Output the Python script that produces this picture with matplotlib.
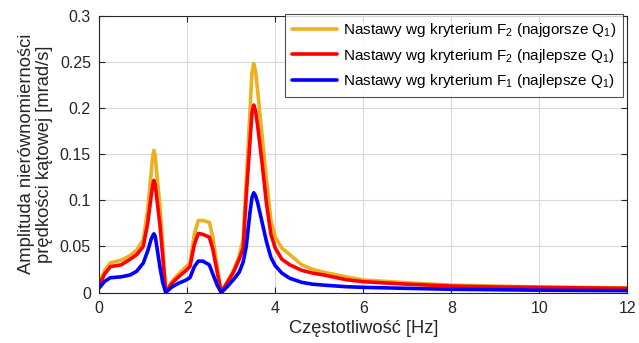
import matplotlib
matplotlib.use("Agg")
import matplotlib.pyplot as plt

plt.rcParams['font.family'] = ['Liberation Sans', 'DejaVu Sans']
plt.rcParams['mathtext.default'] = 'regular'

# Frequency axis [Hz]
freq = [0.00, 0.12, 0.25, 0.50, 0.70, 0.85, 1.00, 1.10, 1.18, 1.21,
        1.24, 1.27, 1.30, 1.38, 1.44, 1.51, 1.65, 1.80, 1.95, 2.06,
        2.16, 2.25, 2.35, 2.50, 2.58, 2.68, 2.77, 2.90, 3.05, 3.18,
        3.27, 3.34, 3.42, 3.47, 3.51, 3.55, 3.60, 3.70, 3.80, 3.90,
        4.00, 4.15, 4.33, 4.60, 4.85, 5.10, 5.60, 6.00, 7.00, 8.00,
        9.00, 10.00, 11.00, 12.00]

# Amplitude [mrad/s] for each controller setting
f2_worst = [0.010, 0.024, 0.032, 0.035, 0.040, 0.046, 0.057, 0.090, 0.130, 0.146,
            0.154, 0.148, 0.132, 0.093, 0.052, 0.000, 0.012, 0.020, 0.027, 0.032,
            0.063, 0.078, 0.078, 0.076, 0.060, 0.028, 0.000, 0.011, 0.024, 0.040,
            0.058, 0.122, 0.192, 0.238, 0.248, 0.240, 0.218, 0.170, 0.122, 0.078,
            0.060, 0.048, 0.041, 0.030, 0.025, 0.022, 0.017, 0.0136, 0.0105, 0.008,
            0.007, 0.006, 0.0055, 0.005]

f2_best = [0.008, 0.020, 0.028, 0.030, 0.036, 0.041, 0.050, 0.075, 0.105, 0.115,
           0.1215, 0.117, 0.105, 0.072, 0.040, 0.000, 0.010, 0.017, 0.023, 0.028,
           0.052, 0.064, 0.063, 0.060, 0.047, 0.022, 0.000, 0.010, 0.022, 0.036,
           0.048, 0.105, 0.160, 0.195, 0.203, 0.197, 0.180, 0.140, 0.096, 0.063,
           0.048, 0.036, 0.030, 0.024, 0.021, 0.019, 0.014, 0.0117, 0.009, 0.007,
           0.006, 0.0055, 0.005, 0.0045]

f1_best = [0.005, 0.012, 0.016, 0.017, 0.019, 0.023, 0.032, 0.045, 0.058, 0.061,
           0.0636, 0.061, 0.052, 0.027, 0.011, 0.000, 0.006, 0.010, 0.013, 0.016,
           0.028, 0.034, 0.034, 0.030, 0.020, 0.008, 0.000, 0.006, 0.014, 0.022,
           0.033, 0.050, 0.085, 0.103, 0.108, 0.105, 0.097, 0.076, 0.055, 0.038,
           0.029, 0.021, 0.0154, 0.011, 0.009, 0.008, 0.0063, 0.0056, 0.0045, 0.0035,
           0.003, 0.0025, 0.0022, 0.002]

labels = ['Nastawy wg kryterium F$_2$ (najgorsze Q$_1$)',
          'Nastawy wg kryterium F$_2$ (najlepsze Q$_1$)',
          'Nastawy wg kryterium F$_1$ (najlepsze Q$_1$)']
colors = ['#EDB120', '#FF0000', '#0000FF']

x_ticks = [0, 2, 4, 6, 8, 10, 12]
y_ticks = [0, 0.05, 0.1, 0.15, 0.2, 0.25, 0.3]
y_ticklabels = ['0', '0.05', '0.1', '0.15', '0.2', '0.25', '0.3']

fig = plt.figure(figsize=(6.39, 3.43), dpi=100)
ax = fig.add_axes([0.1554, 0.1472, 0.9817 - 0.1554, 0.9548 - 0.1472])

for series, lab, col in zip([f2_worst, f2_best, f1_best], labels, colors):
    ax.plot(freq, series, color=col, lw=2.6, label=lab,
            solid_joinstyle='round', solid_capstyle='round')

ax.set_xlim(0, 12)
ax.set_ylim(0, 0.3)
ax.set_xticks(x_ticks)
ax.set_yticks(y_ticks)
ax.set_yticklabels(y_ticklabels)
ax.grid(True, color='#d9d9d9', lw=0.8)
ax.set_axisbelow(True)
ax.tick_params(direction='in', length=4, width=0.8, colors='#262626',
               labelsize=11.5, top=True, right=True, pad=6)
for sp in ax.spines.values():
    sp.set_color('#262626')
    sp.set_linewidth(0.8)

ax.set_xlabel('Częstotliwość [Hz]', fontsize=13.2, color='#262626', labelpad=3)
ax.set_ylabel('Amplituda nierównomierności\nprędkości kątowej [mrad/s]',
              fontsize=13.2, color='#262626', labelpad=5, linespacing=1.05)

leg = ax.legend(loc='upper right', bbox_to_anchor=(0.9918, 1.0054), fontsize=11,
                frameon=True, fancybox=False, edgecolor='#262626',
                handlelength=2.95, handletextpad=0.4, borderpad=0.45,
                labelspacing=0.5, borderaxespad=0.0)
leg.get_frame().set_linewidth(0.8)

fig.savefig('out.png', dpi=100)
